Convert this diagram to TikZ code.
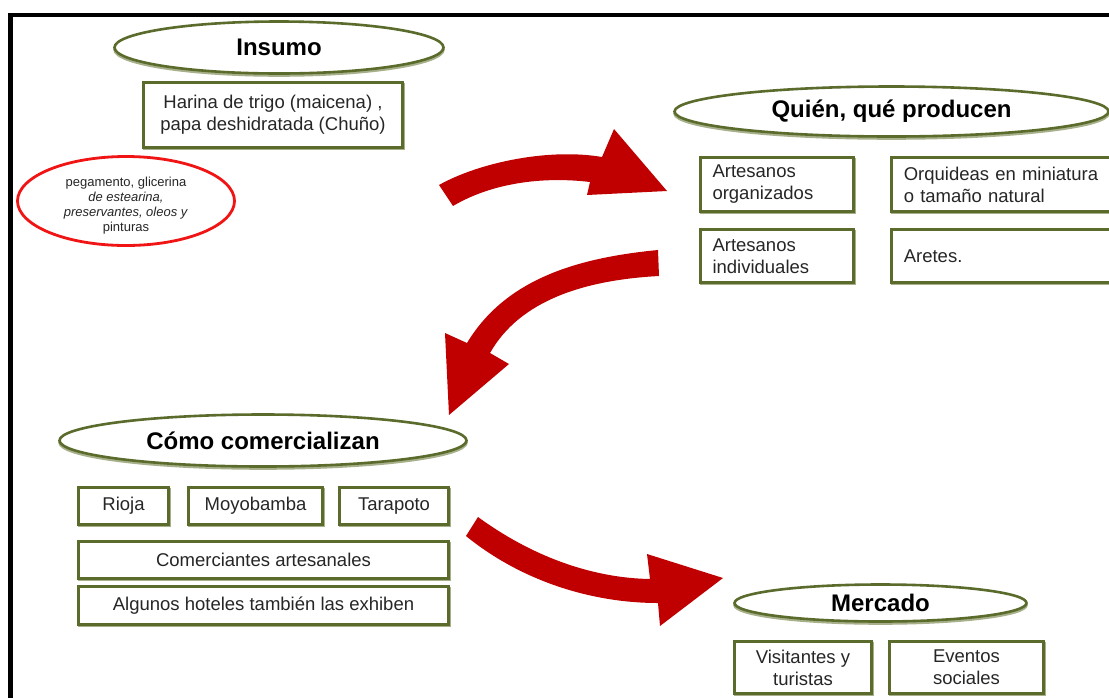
\documentclass[tikz,border=0pt]{standalone}
\usepackage{fontspec}
\setmainfont{Liberation Sans}
\usetikzlibrary{shapes.geometric,shadows}

\definecolor{olivebd}{HTML}{5A6B2C}
\definecolor{olivesh}{HTML}{A7B08A}
\definecolor{arrowred}{HTML}{C00000}
\definecolor{ovalred}{HTML}{F01414}
\definecolor{ink}{HTML}{262626}

\tikzset{
  title/.style={ellipse, draw=olivebd, line width=2.6pt, fill=white, inner sep=0pt,
    font=\fontsize{24}{28}\selectfont\bfseries, text=black,
    drop shadow={shadow xshift=0pt, shadow yshift=-2pt, fill=none, draw=olivesh,
      line width=2.6pt, opacity=1}},
  box/.style={rectangle, draw=olivebd, line width=2.8pt, fill=white, inner sep=0pt,
    font=\fontsize{18.5}{22}\selectfont, text=ink, align=center,
    drop shadow={shadow xshift=1pt, shadow yshift=-1.5pt, fill=none, draw=olivesh,
      line width=2.8pt, opacity=1}},
  lbox/.style={box, align=left, inner xsep=12pt},
  note/.style={ellipse, draw=ovalred, line width=2.8pt, fill=white, inner sep=0pt},
  notetext/.style={inner sep=0pt, font=\fontsize{13}{15}\selectfont, text=ink, align=center},
  flow/.style={fill=arrowred, draw=none},
}

\begin{document}
\begin{tikzpicture}[x=1pt,y=-1pt]
  \useasboundingbox (0,0) rectangle (1109,697);
  \fill[white] (0,0) rectangle (1109,697);
  \clip (0,0) rectangle (1109,697);

  % outer frame (open to the right and bottom)
  \draw[line width=4.5pt, black] (10.5,720) -- (10.5,15) -- (1130,15);

  % ---- Insumo ----
  \node[title, minimum width=329pt, minimum height=52pt] (insumo) at (279,47.5) {Insumo};
  \node[box, minimum width=259pt, minimum height=65pt] (harina) at (273,115)
    {Harina de trigo (maicena) ,\\papa deshidratada (Chuño)};
  \node[note, minimum width=217pt, minimum height=89pt] (extras) at (126,201) {};
  \node[notetext] (extrastext) at (126,205.5)
    {pegamento, glicerina\\\textit{de estearina,}\\\textit{preservantes, oleos y}\\pinturas};

  % ---- Quién, qué producen ----
  \node[title, minimum width=434pt, minimum height=50pt] (quien) at (891.5,111.5) {Quién, qué producen};
  \node[lbox, text width=129pt, minimum height=54pt] (artorg) at (777,184.5)
    {Artesanos\\organizados};
  \node[lbox, text width=129pt, minimum height=53pt] (artind) at (777,256)
    {Artesanos\\individuales};
  \node[lbox, anchor=west, text width=216pt, minimum height=54pt] (orqui) at (890.4,184.5)
    {Orquideas en miniatura\\o tamaño natural};
  \node[lbox, anchor=west, text width=216pt, minimum height=53pt] (aretes) at (890.4,256)
    {Aretes.};

  % ---- Cómo comercializan ----
  \node[title, minimum width=407pt, minimum height=52pt] (como) at (263,440.5) {Cómo comercializan};
  \node[box, minimum width=90pt, minimum height=37pt] (rioja) at (123.5,506) {Rioja};
  \node[box, minimum width=134pt, minimum height=37pt] (moyo) at (255.5,506) {Moyobamba};
  \node[box, minimum width=109pt, minimum height=37pt] (tara) at (394,506) {Tarapoto};
  \node[box, minimum width=370pt, minimum height=37pt] (comer) at (263.5,560) {Comerciantes artesanales};
  \node[box, minimum width=370pt, minimum height=38pt] (hotel) at (263.5,605.5) {Algunos hoteles también las exhiben};

  % ---- Mercado ----
  \node[title, minimum width=292pt, minimum height=37pt] (mercado) at (880.5,603) {Mercado};
  \node[box, minimum width=137pt, minimum height=52pt] (visit) at (803,667.5) {Visitantes y\\turistas};
  \node[box, minimum width=154pt, minimum height=52pt] (eventos) at (966.5,667.5) {Eventos\\sociales};

  % ---- curved block arrows ----
  \fill[flow] (439,185) .. controls (480,162) and (550,148) .. (602,157)
    -- (614,129) -- (667,191) -- (587,195) -- (590,182)
    .. controls (540,176) and (490,184) .. (453,206) -- cycle;

  \fill[flow] (658,250) .. controls (575,258) and (505,280) .. (467,343)
    -- (445,333) -- (449,415) -- (509,364) -- (490,353)
    .. controls (520,300) and (585,280) .. (659,276) -- cycle;

  \fill[flow] (478,517) .. controls (530,555) and (590,578) .. (650,579)
    -- (647,554) -- (723,578) -- (660,626) -- (658,603)
    .. controls (590,603) and (520,580) .. (466,536) -- cycle;
\end{tikzpicture}
\end{document}
